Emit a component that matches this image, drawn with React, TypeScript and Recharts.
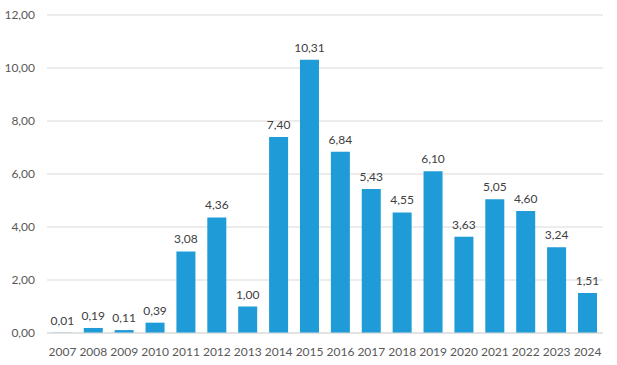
import { BarChart, Bar, XAxis, YAxis, CartesianGrid, LabelList } from 'recharts'

const years = [
  '2007', '2008', '2009', '2010', '2011', '2012', '2013', '2014', '2015',
  '2016', '2017', '2018', '2019', '2020', '2021', '2022', '2023', '2024',
]
const values = [
  0.01, 0.19, 0.11, 0.39, 3.08, 4.36, 1.0, 7.4, 10.31,
  6.84, 5.43, 4.55, 6.1, 3.63, 5.05, 4.6, 3.24, 1.51,
]
const yTicks = [0, 2, 4, 6, 8, 10, 12]

const fmt = (v: number) => v.toFixed(2).replace('.', ',')

const data = years.map((year, i) => ({ year, value: values[i] }))

const font = 'Lato, "Open Sans", sans-serif'

export default function App() {
  return (
    <div style={{ position: 'absolute', left: 0, top: 0, background: '#fff' }}>
      <BarChart
        width={617}
        height={365}
        data={data}
        margin={{ top: 15, right: 14, bottom: 2, left: 0 }}
        barCategoryGap="19%"
      >
        <CartesianGrid vertical={false} stroke="#d9d9d9" />
        <XAxis
          dataKey="year"
          stroke="#d9d9d9"
          tickLine={false}
          interval={0}
          height={30}
          tickMargin={8}
          tick={{ fill: '#595959', fontSize: 12, fontFamily: font }}
        />
        <YAxis
          domain={[0, 12]}
          ticks={yTicks}
          width={47}
          axisLine={false}
          tickLine={false}
          tickMargin={6}
          tickFormatter={fmt}
          tick={{ fill: '#595959', fontSize: 12, fontFamily: font }}
        />
        <Bar dataKey="value" fill="#1f9bd7" isAnimationActive={false}>
          <LabelList
            dataKey="value"
            position="top"
            offset={8}
            formatter={(v: number) => fmt(v)}
            style={{ fill: '#404040', fontSize: 12, fontFamily: font }}
          />
        </Bar>
      </BarChart>
    </div>
  )
}
